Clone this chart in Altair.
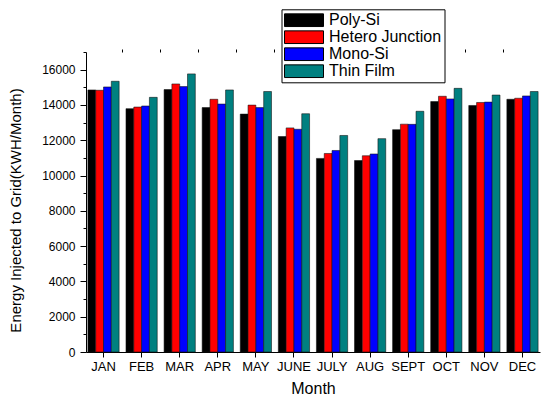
import altair as alt
import pandas as pd

# Monthly grid injection per PV technology (kWh/month)
months = ["JAN", "FEB", "MAR", "APR", "MAY", "JUNE", "JULY", "AUG", "SEPT", "OCT", "NOV", "DEC"]
technologies = ["Poly-Si", "Hetero Junction", "Mono-Si", "Thin Film"]

poly_si = [14850, 13790, 14870, 13850, 13480, 12210, 10970, 10850, 12600, 14190, 13970, 14320]
hetero_junction = [14830, 13880, 15190, 14320, 13990, 12700, 11250, 11120, 12910, 14490, 14140, 14380]
mono_si = [15020, 13940, 15040, 14050, 13850, 12620, 11420, 11220, 12900, 14340, 14160, 14510]
thin_film = [15340, 14430, 15760, 14850, 14760, 13500, 12270, 12090, 13640, 14940, 14560, 14760]

bar_colors = ["#000000", "#ff0000", "#0000ff", "#008080"]

y_major = [0, 2000, 4000, 6000, 8000, 10000, 12000, 14000, 16000]
y_minor = [1000, 3000, 5000, 7000, 9000, 11000, 13000, 15000, 17000]

rows = []
for tech, values in zip(technologies, [poly_si, hetero_junction, mono_si, thin_film]):
    for month, value in zip(months, values):
        rows.append({"Month": month, "Technology": tech, "Energy": value})
df = pd.DataFrame(rows)

FONT = "Liberation Sans"

x_scale = alt.Scale(domain=months, paddingInner=0.18, paddingOuter=0.05)
offset_scale = alt.Scale(domain=technologies, paddingInner=0, paddingOuter=0)
y_scale = alt.Scale(domain=[0, 17000], nice=False, zero=True)
color_scale = alt.Scale(domain=technologies, range=bar_colors)

base = alt.Chart(df)

bars = base.mark_bar(stroke="#111111", strokeWidth=0.7, strokeOpacity=0.8).encode(
    x=alt.X(
        "Month:N",
        scale=x_scale,
        sort=months,
        axis=alt.Axis(
            title="Month",
            labelAngle=0,
            labelFont=FONT,
            labelFontSize=13,
            labelColor="black",
            labelPadding=3,
            tickSize=5,
            titleFont=FONT,
            titleFontSize=16,
            titleFontWeight="normal",
            titleColor="black",
            titleY=41,
            titleBaseline="alphabetic",
        ),
    ),
    xOffset=alt.XOffset("Technology:N", scale=offset_scale, sort=technologies),
    y=alt.Y(
        "Energy:Q",
        scale=y_scale,
        axis=alt.Axis(
            title="Energy Injected to Grid(KWH/Month)",
            values=y_major,
            format="d",
            labelFont=FONT,
            labelFontSize=12,
            labelColor="black",
            labelPadding=5,
            tickSize=6,
            titleFont=FONT,
            titleFontSize=15,
            titleFontWeight="normal",
            titleColor="black",
            titleX=-71,
            titleY=158,
            titleAlign="center",
            titleBaseline="middle",
            titleAngle=270,
        ),
    ),
    color=alt.Color(
        "Technology:N",
        scale=color_scale,
        sort=technologies,
        legend=alt.Legend(
            title=None,
            orient="none",
            legendX=195.5,
            legendY=-42.7,
            symbolType="M-1,-0.325H1V0.325H-1Z",
            symbolSize=1521,
            symbolStrokeColor="black",
            symbolStrokeWidth=1,
            symbolOpacity=1,
            labelFont=FONT,
            labelFontSize=16,
            labelColor="black",
            labelOffset=5,
            clipHeight=16.8,
            rowPadding=0,
            padding=2.5,
            strokeColor="black",
            fillColor="white",
        ),
    ),
)

# Minor ticks: between month groups on x, odd thousands on y
minor = base.mark_bar(opacity=0).encode(
    x=alt.X(
        "Month:N",
        scale=x_scale,
        sort=months,
        axis=alt.Axis(
            title=None,
            labels=False,
            domain=False,
            tickSize=3,
            bandPosition=1.11,
        ),
    ),
    xOffset=alt.XOffset("Technology:N", scale=offset_scale, sort=technologies),
    y=alt.Y(
        "Energy:Q",
        scale=y_scale,
        axis=alt.Axis(
            title=None,
            orient="left",
            values=y_minor,
            labels=False,
            domain=False,
            tickSize=3,
        ),
    ),
)

chart = (
    alt.layer(bars, minor)
    .resolve_axis(x="independent", y="independent")
    .properties(
        width=454,
        height=300,
        padding={"left": 86, "top": 52, "right": 1, "bottom": 44},
        autosize=alt.AutoSizeParams(type="none"),
        background="white",
    )
    .configure_view(stroke=None)
    .configure_axis(
        grid=False,
        domainColor="black",
        domainWidth=1,
        tickColor="black",
        tickWidth=1,
    )
)

chart.save("out.html", embed_options={"renderer": "svg", "actions": False})
